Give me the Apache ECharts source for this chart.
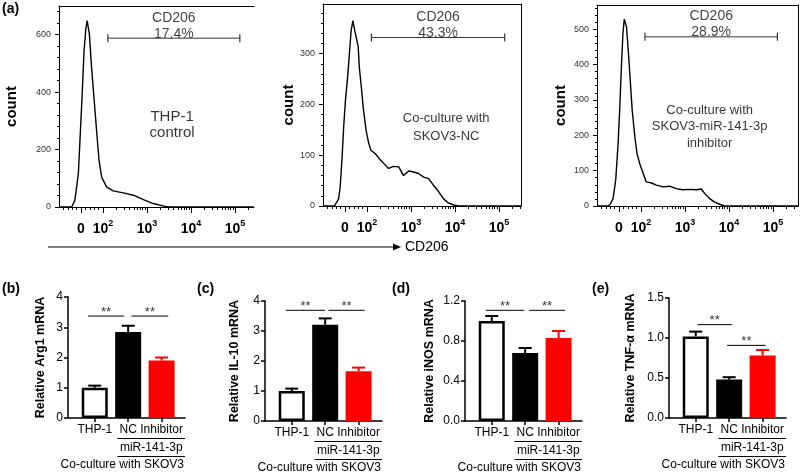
<!DOCTYPE html>
<html>
<head>
<meta charset="utf-8">
<script src="https://cdn.jsdelivr.net/npm/echarts@6/dist/echarts.min.js"></script>
<style>
  html, body { margin: 0; padding: 0; background: #fff; }
  #main { width: 800px; height: 474px; }
</style>
</head>
<body>
<div id="main"></div>
<script>
// ---- data ----
// flow histograms: x is the position on the biexponential display axis
// (one unit per decade, "0" sits at 1.5), y is the cell count
const thpX = [1.0, 1.29, 1.36, 1.44, 1.52, 1.57, 1.61, 1.64, 1.69, 1.74, 1.80, 1.86, 1.91, 1.97, 2.08, 2.23, 2.46, 2.69, 2.92, 3.14, 3.41, 3.52, 5.43]
const thpCount = [0, 0, 23, 116, 371, 545, 620, 649, 603, 487, 371, 255, 162, 104, 70, 56, 49, 41, 26, 12, 2, 0, 0]

const ncX = [1.0, 1.26, 1.30, 1.355, 1.39, 1.43, 1.47, 1.51, 1.56, 1.60, 1.64, 1.68, 1.72, 1.76, 1.80, 1.825, 1.87, 1.92, 1.98, 2.04,
  2.09, 2.19, 2.30, 2.39, 2.49, 2.60, 2.72, 2.83, 2.95, 3.06, 3.17, 3.29, 3.40, 3.51, 3.63, 3.74, 3.85, 3.97, 4.08, 5.51]
const ncCount = [0, 0, 3, 14, 37, 90, 156, 208, 254, 300, 346, 365, 346, 330, 314, 274, 235, 189, 149, 123,
  110, 103, 91, 83, 74, 78, 77, 60, 69, 67, 64, 57, 54, 41, 28, 14, 6, 2, 0, 0]

const inhX = [1.0, 1.25, 1.30, 1.365, 1.425, 1.48, 1.515, 1.555, 1.59, 1.62, 1.67, 1.71, 1.76, 1.80, 1.86, 1.91, 1.97,
  2.05, 2.12, 2.24, 2.35, 2.50, 2.65, 2.80, 2.95, 3.11, 3.26, 3.37, 3.45, 3.56, 3.675, 3.79, 3.90, 5.57]
const inhCount = [0, 0, 5, 21, 73, 177, 271, 394, 488, 528, 507, 441, 347, 271, 195, 148, 120, 92, 68, 65,
  59, 54, 56, 49, 46, 47, 46, 48, 35, 21, 11, 5, 0, 0]

const flowTicks = [1.5, 2, 3, 4, 5]
const flowTickBase = ['0', '10', '10', '10', '10']
const flowTickExp = ['', '2', '3', '4', '5']
const gatePct = ['17.4%', '43.3%', '28.9%']

// qPCR bars
const groups = ['THP-1', 'NC', 'Inhibitor']
const arg1Mean = [1.0, 2.84, 1.90]
const arg1Sem = [0.07, 0.21, 0.10]
const il10Mean = [1.0, 3.21, 1.66]
const il10Sem = [0.08, 0.21, 0.12]
const inosMean = [1.0, 0.68, 0.83]
const inosSem = [0.05, 0.05, 0.07]
const tnfMean = [1.02, 0.48, 0.78]
const tnfSem = [0.06, 0.03, 0.07]

// ---- layout ----
const FONT = '"Liberation Sans", Arial, Helvetica, sans-serif'
const PX_PER_DECADE = 44

const flowPanels = [
  { left: 59, top: 6, width: 195, height: 201, yMax: 700, yLabels: [0, 200, 400, 600], yMinor: 40,
    x: thpX, y: thpCount, gate: [2.11, 5.11, 588], pct: gatePct[0],
    note: 'THP-1\ncontrol', noteAt: [3.57, 285], noteSize: 15, noteLH: 16, border: false, nameGap: 40 },
  { left: 323, top: 4, width: 198, height: 202, yMax: 398, yLabels: [0, 100, 200, 300], yMinor: 20,
    x: ncX, y: ncCount, gate: [2.10, 5.13, 332], pct: gatePct[1],
    note: 'Co-culture with\nSKOV3-NC', noteAt: [3.80, 155], noteSize: 13, noteLH: 17.5, border: true, nameGap: 25 },
  { left: 597, top: 5, width: 201, height: 201, yMax: 568, yLabels: [0, 100, 200, 300, 400, 500], yMinor: 20,
    x: inhX, y: inhCount, gate: [2.09, 5.10, 478], pct: gatePct[2],
    note: 'Co-culture with\nSKOV3-miR-141-3p\ninhibitor', noteAt: [3.56, 224], noteSize: 13, noteLH: 16.5, border: true, nameGap: 29 }
]

const barPanels = [
  { left: 68, top: 297, width: 117, height: 121, name: 'Relative Arg1 mRNA', mean: arg1Mean, sem: arg1Sem,
    max: 4, step: 1, dec: 0, nameGap: 21, sig: [[0.8, 1.88, 3.37], [2.1, 3.2, 3.37]] },
  { left: 265, top: 301, width: 117, height: 120, name: 'Relative IL-10 mRNA', mean: il10Mean, sem: il10Sem,
    max: 4, step: 1, dec: 0, nameGap: 23.5, sig: [[0.83, 1.99, 3.69], [2.1, 3.18, 3.69]] },
  { left: 465, top: 301, width: 117, height: 120, name: 'Relative iNOS mRNA', mean: inosMean, sem: inosSem,
    max: 1.2, step: 0.4, dec: 1, nameGap: 28.5, sig: [[0.83, 1.97, 1.107], [2.12, 3.19, 1.107]] },
  { left: 669, top: 298, width: 117, height: 120, name: 'Relative TNF-α mRNA', mean: tnfMean, sem: tnfSem,
    max: 1.5, step: 0.5, dec: 1, nameGap: 31.5, sig: [[1.05, 2.08, 1.167], [1.94, 3.09, 0.908]] }
]
const barStyles = [
  { color: '#fff', borderColor: '#000', borderWidth: 2.5 },
  { color: '#000' },
  { color: '#ff0000' }
]
const errColors = ['#000', '#000', '#ff0000']

function flowMinorX (max) {
  const v = [1.1, 1.2, 1.3, 1.4, 1.6, 1.7, 1.8, 1.9]
  for (let d = 2; d <= 5; d++) {
    for (let k = 2; k <= 9; k++) {
      const t = d + Math.log10(k)
      if (t < max) v.push(t)
    }
  }
  return v
}

function flowLabel (v) {
  const i = flowTicks.indexOf(v)
  if (i < 0) return ''
  return '{n|' + flowTickBase[i] + '}' + (flowTickExp[i] ? '{s|' + flowTickExp[i] + '}' : '')
}

const grid = []
const xAxis = []
const yAxis = []
const series = []
const hidden = { axisTick: { show: false }, axisLabel: { show: false }, splitLine: { show: false } }

flowPanels.forEach(p => {
  const g = grid.length
  grid.push({ left: p.left, top: p.top, width: p.width, height: p.height, outerBoundsMode: 'none' })
  const xMax = 1 + p.width / PX_PER_DECADE
  const xa = xAxis.length
  xAxis.push(
    { gridIndex: g, type: 'value', min: 1, max: xMax, position: 'bottom',
      axisLine: { onZero: false, lineStyle: { color: '#000', width: 1 } },
      axisTick: { customValues: flowTicks, length: 6, lineStyle: { color: '#000' } },
      axisLabel: { customValues: flowTicks, formatter: flowLabel, margin: 12,
        rich: {
          n: { fontSize: 14, fontWeight: 'bold', color: '#000', lineHeight: 17, verticalAlign: 'bottom' },
          s: { fontSize: 9, fontWeight: 'bold', color: '#000', lineHeight: 10, verticalAlign: 'top' }
        } },
      splitLine: { show: false } },
    { gridIndex: g, type: 'value', min: 1, max: xMax, position: 'bottom',
      axisLine: { show: false, onZero: false },
      axisTick: { customValues: flowMinorX(xMax), length: 3, lineStyle: { color: '#000' } },
      axisLabel: { show: false }, splitLine: { show: false } },
    Object.assign({ gridIndex: g, type: 'value', min: 1, max: xMax, position: 'top',
      axisLine: { onZero: false, lineStyle: { color: '#000', width: 1 } } }, hidden)
  )
  const minorY = []
  for (let v = p.yMinor; v < p.yMax; v += p.yMinor) if (!p.yLabels.includes(v)) minorY.push(v)
  const ya = yAxis.length
  yAxis.push(
    { gridIndex: g, type: 'value', min: 0, max: p.yMax, position: 'left',
      axisLine: { show: true, onZero: false, lineStyle: { color: '#000', width: 1 } },
      axisTick: { show: true, customValues: p.yLabels, length: 4, lineStyle: { color: '#000' } },
      axisLabel: { customValues: p.yLabels, fontSize: 9, color: '#333', margin: 8 },
      splitLine: { show: false },
      name: 'count', nameLocation: 'middle', nameGap: p.nameGap,
      nameTextStyle: { fontWeight: 'bold', fontSize: 15, color: '#000' } },
    { gridIndex: g, type: 'value', min: 0, max: p.yMax, position: 'left',
      axisLine: { show: false, onZero: false },
      axisTick: { show: true, customValues: minorY, length: 2, lineStyle: { color: '#000' } },
      axisLabel: { show: false }, splitLine: { show: false } }
  )
  if (p.border) {
    yAxis.push(Object.assign({ gridIndex: g, type: 'value', min: 0, max: p.yMax, position: 'right',
      axisLine: { show: true, onZero: false, lineStyle: { color: '#000', width: 1 } } }, hidden))
  }

  series.push(
    { type: 'line', xAxisIndex: xa, yAxisIndex: ya, data: p.x.map((u, i) => [u, p.y[i]]),
      symbol: 'none', lineStyle: { color: '#000', width: 1.4 }, z: 3 },
    { type: 'line', xAxisIndex: xa, yAxisIndex: ya,
      data: [[p.gate[0], p.gate[2]], [p.gate[1], p.gate[2]]],
      symbol: 'rect', symbolSize: [1.2, 8], itemStyle: { color: '#333' }, lineStyle: { color: '#333', width: 1 } },
    { type: 'scatter', xAxisIndex: xa, yAxisIndex: ya, symbolSize: 1, itemStyle: { color: 'rgba(0,0,0,0)' },
      data: [
        { value: [(p.gate[0] + p.gate[1]) / 2, p.gate[2]],
          label: { show: true, position: 'top', distance: 1, offset: [0, 5], formatter: 'CD206\n' + p.pct,
            fontSize: 14, lineHeight: 16, color: '#111' } },
        { value: p.noteAt,
          label: { show: true, position: 'inside', formatter: p.note,
            fontSize: p.noteSize, lineHeight: p.noteLH, color: '#000' } }
      ] }
  )
})

const barAxisRefs = []
barPanels.forEach(p => {
  const g = grid.length
  grid.push({ left: p.left, top: p.top, width: p.width, height: p.height, outerBoundsMode: 'none' })
  const xa = xAxis.length
  const ya = yAxis.length
  barAxisRefs.push({ xa, ya })
  xAxis.push({ gridIndex: g, type: 'value', min: 0.2, max: 3.7, position: 'bottom',
    axisLine: { onZero: false, lineStyle: { color: '#000', width: 1.5 } },
    axisTick: { customValues: [1, 2, 3], length: 4, lineStyle: { color: '#000', width: 1.5 } },
    axisLabel: { customValues: [1, 2, 3], formatter: v => groups[v - 1], fontSize: 12, color: '#000', margin: 6 },
    splitLine: { show: false } })
  yAxis.push({ gridIndex: g, type: 'value', min: 0, max: p.max, interval: p.step, position: 'left',
    axisLine: { show: true, onZero: false, lineStyle: { color: '#000', width: 1.5 } },
    axisTick: { show: true, length: 4, lineStyle: { color: '#000', width: 1.5 } },
    axisLabel: { fontSize: 12, color: '#000', margin: 5, formatter: v => v.toFixed(p.dec) },
    splitLine: { show: false },
    name: p.name, nameLocation: 'middle', nameGap: p.nameGap,
    nameTextStyle: { fontWeight: 'bold', fontSize: 12.5, color: '#000' } })

  series.push(
    { type: 'bar', xAxisIndex: xa, yAxisIndex: ya, barWidth: 26, z: 2,
      data: p.mean.map((m, i) => ({ value: [i + 1, m], itemStyle: barStyles[i] })) },
    { type: 'custom', xAxisIndex: xa, yAxisIndex: ya, z: 3,
      data: p.mean.map((m, i) => [i + 1, m, p.sem[i]]),
      renderItem: (params, api) => {
        const x = api.value(0)
        const m = api.value(1)
        const e = api.value(2)
        const base = api.coord([x, m])
        const top = api.coord([x, m + e])
        const c = errColors[params.dataIndex]
        return { type: 'group', children: [
          { type: 'line', shape: { x1: base[0], y1: base[1], x2: top[0], y2: top[1] }, style: { stroke: c, lineWidth: 2 } },
          { type: 'line', shape: { x1: top[0] - 6.5, y1: top[1], x2: top[0] + 6.5, y2: top[1] }, style: { stroke: c, lineWidth: 2 } }
        ] }
      } }
  )
  p.sig.forEach(s => {
    series.push({ type: 'line', xAxisIndex: xa, yAxisIndex: ya, symbol: 'none',
      data: [[s[0], s[2]], [s[1], s[2]]], lineStyle: { color: '#000', width: 1 } })
  })
  series.push({ type: 'scatter', xAxisIndex: xa, yAxisIndex: ya, symbolSize: 1, itemStyle: { color: 'rgba(0,0,0,0)' },
    data: p.sig.map(s => [(s[0] + s[1]) / 2, s[2]]),
    label: { show: true, position: 'inside', offset: [0, -4], formatter: '**', fontSize: 13, color: '#000' } })
})

const chart = echarts.init(document.getElementById('main'))
chart.setOption({
  animation: false,
  textStyle: { fontFamily: FONT },
  grid, xAxis, yAxis, series
})

// decorations: panel letters, CD206 arrow and the group brackets under the bar charts
const txt = (x, y, text, size, opts) => Object.assign({ type: 'text', x, y,
  style: Object.assign({ text, fontSize: size, fontFamily: FONT, fill: '#000',
    textAlign: 'left', textVerticalAlign: 'top' }, opts || {}) })
const seg = (x1, y1, x2, y2) => ({ type: 'line', shape: { x1, y1, x2, y2 }, style: { stroke: '#000', lineWidth: 1 } })

const deco = [
  txt(2, 2, '(a)', 14, { fontWeight: 'bold' }),
  txt(2, 282, '(b)', 14, { fontWeight: 'bold' }),
  txt(197, 282, '(c)', 14, { fontWeight: 'bold' }),
  txt(392, 282, '(d)', 14, { fontWeight: 'bold' }),
  txt(592, 282, '(e)', 14, { fontWeight: 'bold' }),
  seg(48, 247, 394, 247),
  { type: 'polygon', shape: { points: [[393, 243.5], [401, 247], [393, 250.5]] }, style: { fill: '#000' } },
  txt(405, 247, 'CD206', 14, { textVerticalAlign: 'middle' })
]
barAxisRefs.forEach(r => {
  const xs = chart.convertToPixel({ xAxisIndex: r.xa }, 1.68)
  const xr = chart.convertToPixel({ xAxisIndex: r.xa }, 3.7)
  const y0 = chart.convertToPixel({ yAxisIndex: r.ya }, 0)
  deco.push(
    seg(xs, y0 + 20.5, xr, y0 + 20.5),
    txt((xs + xr) / 2, y0 + 29.8, 'miR-141-3p', 12, { textAlign: 'center', textVerticalAlign: 'middle' }),
    seg(xs, y0 + 38.5, xr, y0 + 38.5),
    txt(xr - 1, y0 + 46.5, 'Co-culture with SKOV3', 12, { textAlign: 'right', textVerticalAlign: 'middle' })
  )
})
chart.setOption({ graphic: deco })
</script>
</body>
</html>
